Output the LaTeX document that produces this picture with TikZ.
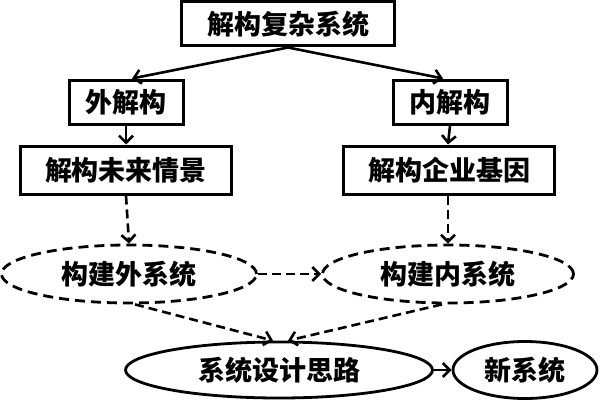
\documentclass[tikz,border=0pt]{standalone}
\usepackage{fontspec}
\newfontfamily\cjk{Noto Sans CJK SC}
\usepackage{tikz}
\usetikzlibrary{arrows.meta, positioning, shapes.geometric}

\begin{document}
\begin{tikzpicture}[x=1pt, y=1pt, >={Straight Barb[length=7pt,width=14pt]},
	every node/.style={font=\cjk\bfseries\fontsize{27}{27}\selectfont, inner sep=0pt},
	box/.style={draw, rectangle, line width=3pt, minimum height=44pt},
	oval/.style={draw, ellipse, line width=2.8pt, minimum height=58pt},
	dashoval/.style={oval, dash pattern=on 10pt off 6pt},
	link/.style={->, line width=2.6pt},
	dashlink/.style={link, dash pattern=on 9pt off 5pt}]
			\useasboundingbox (0,0) rectangle (600,400);
			
			% Top box
			\node[box, minimum width=213pt] (jg) at (288,376) {解构复杂系统};
			
			% Outer and inner branch
			\node[box, minimum width=114pt] (wjg) at (126,298) {外解构};
			\node[box, minimum width=114pt] (njg) at (450,298) {内解构};
			\node[box, minimum width=211pt, minimum height=48pt] (wlqj) at (126,230) {解构未来情景};
			\node[box, minimum width=211pt, minimum height=48pt] (qyjy) at (449,230) {解构企业基因};
			
			% Dashed systems
			\node[dashoval, minimum width=255pt] (wxt) at (129,126) {构建外系统};
			\node[dashoval, minimum width=251pt] (nxt) at (448,126) {构建内系统};
			
			% Bottom ellipses
			\node[oval, minimum width=307pt, minimum height=56pt] (sjsl) at (279,30) {系统设计思路};
			\node[oval, minimum width=144pt, minimum height=57pt] (xxt) at (525,30) {新系统};
			
			% Solid arrows
			\draw[link] (jg.south) -- ([xshift=6pt]wjg.north);
			\draw[link] (jg.south) -- ([xshift=-7pt]njg.north);
			\draw[link] (wjg.south) -- (wlqj.north);
			\draw[link] (njg.south) -- ([xshift=-1pt]qyjy.north);
			\draw[link] (sjsl.east) -- (xxt.west);
			
			% Dashed arrows
			\draw[dashlink] (wlqj.south) -- (wxt.north);
			\draw[dashlink] ([xshift=-1pt]qyjy.south) -- (nxt.north);
			\draw[dashlink] (wxt.east) -- (nxt.west);
			\draw[dashlink] ([xshift=6pt]wxt.south) -- ([xshift=-6pt]sjsl.north);
			\draw[dashlink] ([xshift=-6pt]nxt.south) -- ([xshift=9pt]sjsl.north);
		\end{tikzpicture}
\end{document}
